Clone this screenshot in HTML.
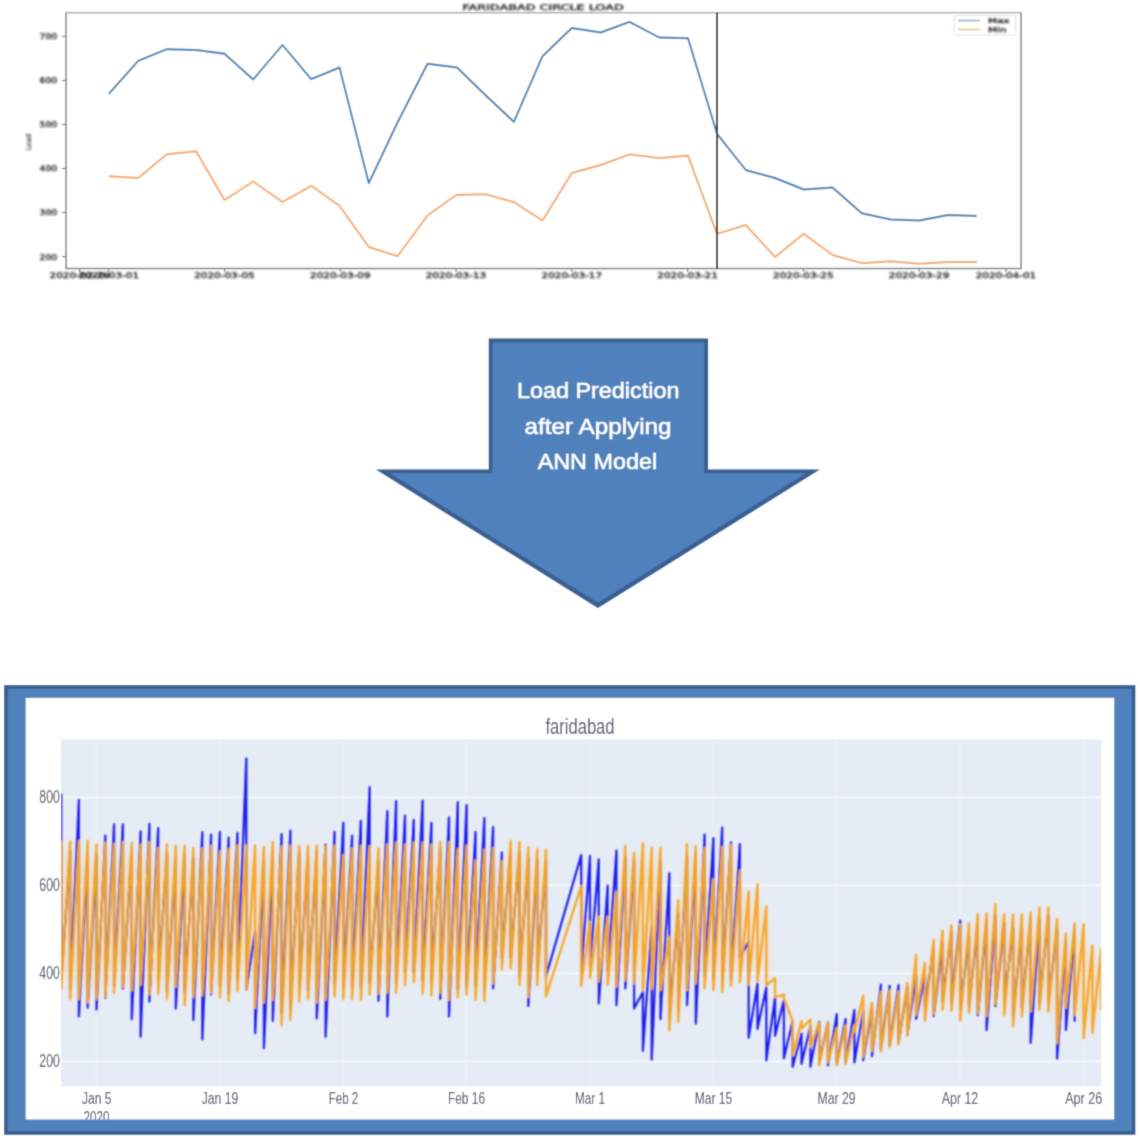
<!DOCTYPE html>
<html><head><meta charset="utf-8"><title>Faridabad circle load</title>
<style>
html,body{margin:0;padding:0;background:#fff;}
body{width:1140px;height:1140px;overflow:hidden;}
svg{display:block}
.mt{font-family:"DejaVu Sans","Liberation Sans",sans-serif;font-size:7.6px;fill:#1a1a1a;stroke:#1a1a1a;stroke-width:0.32px;}
.at{font-family:"Liberation Sans",sans-serif;font-size:22.6px;fill:#fff;stroke:#fff;stroke-width:0.5px;}
.pt{font-family:"Liberation Sans",sans-serif;font-size:16.8px;fill:#444b5e;}
</style></head><body>
<svg width="1140" height="1140" viewBox="0 0 1140 1140">
<defs>
<filter id="b1" x="-2%" y="-5%" width="104%" height="110%"><feGaussianBlur stdDeviation="1"/></filter>
<filter id="b2" x="-2%" y="-5%" width="104%" height="110%"><feConvolveMatrix order="3" kernelMatrix="0.03 0.11 0.03 0.11 0.44 0.11 0.03 0.11 0.03" divisor="1" edgeMode="duplicate" preserveAlpha="false"/></filter>
<filter id="b3" filterUnits="userSpaceOnUse" x="0" y="700" width="1140" height="420"><feConvolveMatrix order="3" kernelMatrix="0.03 0.11 0.03 0.11 0.44 0.11 0.03 0.11 0.03" divisor="1" edgeMode="duplicate" preserveAlpha="false"/></filter>
<filter id="b4" filterUnits="userSpaceOnUse" x="0" y="700" width="1140" height="420"><feGaussianBlur stdDeviation="3 11"/></filter>
</defs>
<rect width="1140" height="1140" fill="#fff"/>
<g filter="url(#b2)">
<rect x="66.1" y="12.8" width="954.9" height="255.6" fill="#fff"/>
<path d="M66.1,12.1 L66.1,268.4 L1021.0,268.4 L1021.0,12.1" fill="none" stroke="#858585" stroke-width="1.5" stroke-linejoin="miter"/>
<line x1="66.1" y1="12.8" x2="1021.0" y2="12.8" stroke="#b2b2b2" stroke-width="1.6"/>
<line x1="62.1" y1="256.6" x2="66.1" y2="256.6" stroke="#777" stroke-width="1"/>
<line x1="62.1" y1="212.5" x2="66.1" y2="212.5" stroke="#777" stroke-width="1"/>
<line x1="62.1" y1="168.5" x2="66.1" y2="168.5" stroke="#777" stroke-width="1"/>
<line x1="62.1" y1="124.4" x2="66.1" y2="124.4" stroke="#777" stroke-width="1"/>
<line x1="62.1" y1="80.4" x2="66.1" y2="80.4" stroke="#777" stroke-width="1"/>
<line x1="62.1" y1="36.3" x2="66.1" y2="36.3" stroke="#777" stroke-width="1"/>
<line x1="79.8" y1="268.4" x2="79.8" y2="271.9" stroke="#777" stroke-width="1"/>
<line x1="108.8" y1="268.4" x2="108.8" y2="271.9" stroke="#777" stroke-width="1"/>
<line x1="224.5" y1="268.4" x2="224.5" y2="271.9" stroke="#777" stroke-width="1"/>
<line x1="340.3" y1="268.4" x2="340.3" y2="271.9" stroke="#777" stroke-width="1"/>
<line x1="456.0" y1="268.4" x2="456.0" y2="271.9" stroke="#777" stroke-width="1"/>
<line x1="571.8" y1="268.4" x2="571.8" y2="271.9" stroke="#777" stroke-width="1"/>
<line x1="687.6" y1="268.4" x2="687.6" y2="271.9" stroke="#777" stroke-width="1"/>
<line x1="803.3" y1="268.4" x2="803.3" y2="271.9" stroke="#777" stroke-width="1"/>
<line x1="919.1" y1="268.4" x2="919.1" y2="271.9" stroke="#777" stroke-width="1"/>
<line x1="1005.9" y1="268.4" x2="1005.9" y2="271.9" stroke="#777" stroke-width="1"/>
<polyline points="108.8,93.8 138.2,60.8 166.8,49.2 196.2,50.0 224.5,53.8 253.2,79.5 282.5,45.0 311.2,79.2 339.5,67.5 368.8,183.2 397.5,122.5 427.5,63.8 457.0,67.5 484.0,93.8 513.8,121.8 542.5,56.2 571.8,28.0 600.8,32.5 629.5,21.9 659.2,37.5 688.0,38.2 717.0,133.8 745.8,170.0 775.0,178.0 803.8,189.5 832.5,187.5 861.8,213.2 890.5,219.5 919.3,220.5 948.0,215.0 977.0,216.0" fill="none" stroke="#4381b6" stroke-width="1.9" stroke-linejoin="round"/>
<polyline points="108.8,176.2 138.2,178.0 166.8,154.2 196.2,151.2 224.5,200.0 253.2,181.5 282.5,202.0 311.2,185.8 339.5,205.8 368.8,247.0 397.5,256.2 427.5,215.5 456.2,195.0 485.0,194.2 513.8,202.0 542.5,220.5 571.8,173.0 600.8,165.0 629.5,154.4 659.2,158.0 688.0,155.8 717.0,233.8 745.8,225.0 775.0,257.0 803.8,233.8 832.5,255.0 861.8,263.2 890.5,261.2 919.3,263.8 948.0,262.0 977.0,262.0" fill="none" stroke="#f6a968" stroke-width="1.9" stroke-linejoin="round"/>
<line x1="717" y1="12.8" x2="717" y2="268.4" stroke="#2a2a2a" stroke-width="2"/>
<rect x="954.3" y="15.6" width="61.4" height="19.4" rx="1.5" fill="#fff" stroke="#e2e2e2" stroke-width="1"/>
<line x1="958" y1="20.5" x2="980" y2="20.5" stroke="#8db4d6" stroke-width="1.6"/>
<line x1="958" y1="29.5" x2="980" y2="29.5" stroke="#f8c392" stroke-width="1.6"/>
</g>
<g filter="url(#b1)">
<text x="57.2" y="259.5" text-anchor="end" textLength="17.6" lengthAdjust="spacingAndGlyphs" class="mt">200</text>
<text x="57.2" y="215.4" text-anchor="end" textLength="17.6" lengthAdjust="spacingAndGlyphs" class="mt">300</text>
<text x="57.2" y="171.4" text-anchor="end" textLength="17.6" lengthAdjust="spacingAndGlyphs" class="mt">400</text>
<text x="57.2" y="127.3" text-anchor="end" textLength="17.6" lengthAdjust="spacingAndGlyphs" class="mt">500</text>
<text x="57.2" y="83.3" text-anchor="end" textLength="17.6" lengthAdjust="spacingAndGlyphs" class="mt">600</text>
<text x="57.2" y="39.2" text-anchor="end" textLength="17.6" lengthAdjust="spacingAndGlyphs" class="mt">700</text>
<text x="79.8" y="278.1" text-anchor="middle" textLength="60.5" lengthAdjust="spacingAndGlyphs" class="mt">2020-02-29</text>
<text x="108.8" y="278.1" text-anchor="middle" textLength="60.5" lengthAdjust="spacingAndGlyphs" class="mt">2020-03-01</text>
<text x="224.5" y="278.1" text-anchor="middle" textLength="60.5" lengthAdjust="spacingAndGlyphs" class="mt">2020-03-05</text>
<text x="340.3" y="278.1" text-anchor="middle" textLength="60.5" lengthAdjust="spacingAndGlyphs" class="mt">2020-03-09</text>
<text x="456.0" y="278.1" text-anchor="middle" textLength="60.5" lengthAdjust="spacingAndGlyphs" class="mt">2020-03-13</text>
<text x="571.8" y="278.1" text-anchor="middle" textLength="60.5" lengthAdjust="spacingAndGlyphs" class="mt">2020-03-17</text>
<text x="687.6" y="278.1" text-anchor="middle" textLength="60.5" lengthAdjust="spacingAndGlyphs" class="mt">2020-03-21</text>
<text x="803.3" y="278.1" text-anchor="middle" textLength="60.5" lengthAdjust="spacingAndGlyphs" class="mt">2020-03-25</text>
<text x="919.1" y="278.1" text-anchor="middle" textLength="60.5" lengthAdjust="spacingAndGlyphs" class="mt">2020-03-29</text>
<text x="1005.9" y="278.1" text-anchor="middle" textLength="60.5" lengthAdjust="spacingAndGlyphs" class="mt">2020-04-01</text>
<text transform="translate(31.3,142) rotate(-90)" text-anchor="middle" textLength="16" lengthAdjust="spacingAndGlyphs" class="mt" style="font-size:7px;fill:#222;stroke-width:0.1px">Load</text>
<text x="543" y="10" text-anchor="middle" textLength="161.5" lengthAdjust="spacingAndGlyphs" class="mt" style="font-size:7.8px">FARIDABAD CIRCLE LOAD</text>
<text x="988" y="23" textLength="21.5" lengthAdjust="spacingAndGlyphs" class="mt" style="font-size:6.6px">Max</text>
<text x="988" y="31.6" textLength="18.5" lengthAdjust="spacingAndGlyphs" class="mt" style="font-size:6.6px">Min</text>
</g>
<g filter="url(#b2)">
<polygon points="488.8,338.5 708,338.5 708,469.6 819.8,469.6 597.9,607.9 376,469.6 488.8,469.6" fill="#3a5f91"/>
<polygon points="492.5,342.2 704.3,342.2 704.3,473.3 805.9,473.3 597.9,602.7 389.9,473.3 492.5,473.3" fill="#4f81bd"/>
<text x="598.2" y="398.2" text-anchor="middle" textLength="162.5" lengthAdjust="spacingAndGlyphs" class="at">Load Prediction</text>
<text x="598.1" y="433.7" text-anchor="middle" textLength="147.0" lengthAdjust="spacingAndGlyphs" class="at">after Applying</text>
<text x="597.4" y="468.8" text-anchor="middle" textLength="119.5" lengthAdjust="spacingAndGlyphs" class="at">ANN Model</text>
</g>
<g filter="url(#b2)">
<rect x="4.2" y="685.2" width="1131.1" height="449.5" fill="#385d8a"/>
<rect x="7.7" y="688.7" width="1124.1" height="442.5" fill="#4f81bd"/>
<rect x="25.7" y="697.9" width="1088.5" height="421.6" fill="#fff"/>
<rect x="61.0" y="739.5" width="1040.2" height="346.8" fill="#e5ecf6"/>
<line x1="96.5" y1="739.5" x2="96.5" y2="1086.3" stroke="#ecf1f9" stroke-width="1.6"/>
<line x1="220.0" y1="739.5" x2="220.0" y2="1086.3" stroke="#ecf1f9" stroke-width="1.6"/>
<line x1="343.5" y1="739.5" x2="343.5" y2="1086.3" stroke="#ecf1f9" stroke-width="1.6"/>
<line x1="466.5" y1="739.5" x2="466.5" y2="1086.3" stroke="#ecf1f9" stroke-width="1.6"/>
<line x1="590.0" y1="739.5" x2="590.0" y2="1086.3" stroke="#ecf1f9" stroke-width="1.6"/>
<line x1="713.4" y1="739.5" x2="713.4" y2="1086.3" stroke="#ecf1f9" stroke-width="1.6"/>
<line x1="836.5" y1="739.5" x2="836.5" y2="1086.3" stroke="#ecf1f9" stroke-width="1.6"/>
<line x1="960.0" y1="739.5" x2="960.0" y2="1086.3" stroke="#ecf1f9" stroke-width="1.6"/>
<line x1="1083.7" y1="739.5" x2="1083.7" y2="1086.3" stroke="#ecf1f9" stroke-width="1.6"/>
<line x1="61.0" y1="797.4" x2="1101.2" y2="797.4" stroke="#f4f7fc" stroke-width="2"/>
<line x1="61.0" y1="885.4" x2="1101.2" y2="885.4" stroke="#f4f7fc" stroke-width="2"/>
<line x1="61.0" y1="973.4" x2="1101.2" y2="973.4" stroke="#f4f7fc" stroke-width="2"/>
<line x1="61.0" y1="1061.4" x2="1101.2" y2="1061.4" stroke="#f4f7fc" stroke-width="2"/>
<svg x="61.0" y="739.5" width="1040.2" height="346.8" viewBox="61.0 739.5 1040.2 346.8" overflow="hidden"><g filter="url(#b3)"><rect x="0" y="700" width="1140" height="400" fill="none"/>
<polygon points="61.2,856.0 70.1,856.4 78.9,856.0 87.7,855.6 96.5,859.5 105.3,857.8 114.1,858.6 122.9,856.9 131.8,857.8 140.6,859.5 149.4,856.9 158.2,863.0 167.0,859.5 175.8,860.7 184.6,860.4 193.4,863.0 202.3,863.4 211.1,860.7 219.9,866.5 228.7,863.9 237.5,860.4 246.3,860.4 255.1,860.4 263.9,862.1 272.8,856.9 281.6,861.3 290.4,860.7 299.2,860.7 308.0,860.7 316.8,860.4 325.6,861.3 334.5,860.4 343.3,870.0 352.1,863.4 360.9,860.7 369.7,861.3 378.5,863.4 387.3,859.5 396.1,857.4 405.0,859.5 413.8,857.4 422.6,857.4 431.4,859.5 440.2,856.9 449.0,856.9 457.8,863.9 466.6,860.4 475.5,875.3 484.3,864.8 493.1,863.0 501.9,876.2 510.7,856.0 519.5,856.9 528.3,862.1 537.2,863.9 546.0,864.8 546.0,981.4 537.2,970.0 528.3,982.2 519.5,970.0 510.7,953.3 501.9,954.2 493.1,968.2 484.3,985.8 475.5,984.9 466.6,979.6 457.8,982.2 449.0,984.9 440.2,977.9 431.4,980.5 422.6,978.7 413.8,967.3 405.0,970.0 396.1,977.9 387.3,977.9 378.5,978.7 369.7,979.6 360.9,984.9 352.1,984.0 343.3,984.0 334.5,981.4 325.6,984.9 316.8,987.5 308.0,984.0 299.2,986.6 290.4,1005.1 281.6,1010.3 272.8,984.9 263.9,987.5 255.1,992.8 246.3,973.5 237.5,976.1 228.7,985.8 219.9,982.2 211.1,977.9 202.3,980.5 193.4,982.2 184.6,990.1 175.8,971.7 167.0,984.0 158.2,978.7 149.4,979.6 140.6,970.0 131.8,975.2 122.9,971.7 114.1,977.9 105.3,982.2 96.5,984.0 87.7,987.5 78.9,984.0 70.1,984.0 61.2,973.5" fill="#fbcf8a" opacity="0.4" filter="url(#b4)"/>
<polygon points="581.2,900.7 590.0,936.7 598.8,931.4 607.7,931.4 616.5,906.9 625.3,860.9 634.1,867.9 642.9,858.3 651.7,862.7 660.5,862.7 669.3,952.1 678.2,915.3 687.0,859.2 695.8,860.9 704.6,862.7 713.4,894.2 722.2,861.8 731.0,860.0 739.9,885.5 748.7,906.5 757.5,899.5 766.3,921.4 775.1,987.7 783.9,996.5 792.7,1036.0 801.5,1024.9 810.4,1033.3 819.2,1037.4 828.0,1037.4 836.8,1043.0 845.6,1040.2 854.4,1028.4 863.2,1010.7 872.0,1017.8 880.9,1006.5 889.7,1005.1 898.5,1006.5 907.3,998.1 916.1,970.0 924.9,978.0 933.7,954.9 942.6,945.7 951.4,940.2 960.2,939.3 969.0,938.4 977.8,929.2 986.6,928.2 995.4,919.0 1004.2,929.2 1013.1,929.2 1021.9,929.2 1030.7,927.3 1039.5,922.7 1048.3,922.7 1057.1,933.8 1065.9,948.5 1074.7,938.4 1083.6,939.3 1092.4,960.5 1101.2,964.2 1101.2,994.8 1092.4,1017.8 1083.6,1023.3 1074.7,1000.3 1065.9,992.9 1057.1,1027.9 1048.3,996.6 1039.5,994.8 1030.7,996.6 1021.9,1001.2 1013.1,1011.4 1004.2,1000.3 995.4,989.3 986.6,1001.2 977.8,998.5 969.0,997.6 960.2,1005.8 951.4,995.7 942.6,994.8 933.7,999.4 924.9,1005.8 916.1,999.8 907.3,1020.8 898.5,1029.3 889.7,1032.1 880.9,1036.3 872.0,1036.3 863.2,1041.9 854.4,1028.4 845.6,1048.9 836.8,1050.3 828.0,1047.5 819.2,1050.3 810.4,1033.3 801.5,1024.9 792.7,1040.5 783.9,996.5 775.1,987.7 766.3,970.3 757.5,966.5 748.7,970.0 739.9,967.3 731.0,970.8 722.2,977.0 713.4,975.2 704.6,973.5 695.8,968.2 687.0,975.2 678.2,1006.8 669.3,1015.6 660.5,975.2 651.7,973.5 642.9,975.2 634.1,968.2 625.3,965.6 616.5,971.7 607.7,970.0 598.8,966.5 590.0,962.9 581.2,970.8" fill="#fbcf8a" opacity="0.4" filter="url(#b4)"/>
<path d="M61.2,793.7 L61.2,980.5 L70.1,851.8 L70.1,989.9 L78.9,799.9 L78.9,1016.4 L87.7,851.6 L87.7,1007.7 L96.5,855.6 L96.5,1009.4 L105.3,835.8 L105.3,998.0 L114.1,824.4 L114.1,986.2 L122.9,824.4 L122.9,988.4 L131.8,849.0 L131.8,1019.1 L140.6,831.5 L140.6,1036.6 L149.4,823.9 L149.4,1001.5 L158.2,828.3 L158.2,980.9 L167.0,852.7 L167.0,991.0 L175.8,859.8 L175.8,1008.5 L184.6,855.2 L184.6,992.3 L193.4,857.9 L193.4,1020.0 L202.3,832.3 L202.3,1039.3 L211.1,834.6 L211.1,994.5 L219.9,832.0 L219.9,986.0 L228.7,837.6 L228.7,993.4 L237.5,832.9 L237.5,979.9 L246.3,758.6 L246.3,989.3 L255.1,931.6 L255.1,1033.1 L263.9,860.2 L263.9,1048.0 L272.8,852.2 L272.8,1020.8 L281.6,834.1 L281.6,1013.3 L290.4,830.6 L290.4,1008.6 L299.2,852.3 L299.2,989.5 L308.0,856.6 L308.0,990.5 L316.8,851.7 L316.8,1018.2 L325.6,844.6 L325.6,1036.6 L334.5,832.0 L334.5,983.3 L343.3,822.7 L343.3,989.1 L352.1,835.8 L352.1,987.1 L360.9,820.9 L360.9,986.7 L369.7,787.1 L369.7,982.8 L378.5,861.8 L378.5,1000.7 L387.3,811.3 L387.3,1016.4 L396.1,801.1 L396.1,983.6 L405.0,815.7 L405.0,972.5 L413.8,820.0 L413.8,972.7 L422.6,800.7 L422.6,980.2 L431.4,823.0 L431.4,982.4 L440.2,848.8 L440.2,998.9 L449.0,817.4 L449.0,1016.4 L457.8,802.2 L457.8,990.1 L466.6,805.1 L466.6,986.8 L475.5,832.0 L475.5,986.1 L484.3,818.3 L484.3,991.2 L493.1,827.1 L493.1,988.4 L501.9,852.5 L501.9,958.1 L510.7,849.5 L510.7,958.1 L519.5,851.1 L519.5,976.1 L528.3,857.9 L528.3,1005.9 L537.2,859.7 L537.2,971.6 L546.0,861.3 L546.0,976.1 L581.2,855.1 L581.2,972.3 L590.0,856.0 L590.0,965.0 L598.8,859.5 L598.8,1003.3 L607.7,885.8 L607.7,970.9 L616.5,850.7 L616.5,1005.0 L625.3,857.4 L625.3,988.4 L634.1,860.3 L634.1,1008.5 L642.9,992.3 L642.9,1050.7 L651.7,927.4 L651.7,1059.4 L660.5,860.7 L660.5,1019.1 L669.3,873.2 L669.3,1016.8 L678.2,913.6 L678.2,1011.2 L687.0,856.0 L687.0,1005.0 L695.8,853.7 L695.8,1023.5 L704.6,834.6 L704.6,975.7 L713.4,838.1 L713.4,979.5 L722.2,827.6 L722.2,983.6 L731.0,842.5 L731.0,979.2 L739.9,844.3 L739.9,957.7 L748.7,941.6 L748.7,1037.5 L757.5,983.6 L757.5,1028.7 L766.3,987.4 L766.3,1060.3 L775.1,997.2 L775.1,1035.7 L783.9,1000.0 L783.9,1058.2 L792.7,1021.1 L792.7,1066.6 L801.5,1033.7 L801.5,1063.8 L810.4,1026.7 L810.4,1066.6 L819.2,1021.8 L819.2,1062.4 L828.0,1022.5 L828.0,1065.2 L836.8,1014.1 L836.8,1063.8 L845.6,1019.0 L845.6,1062.4 L854.4,1009.9 L854.4,1062.4 L863.2,1011.3 L863.2,1060.3 L872.0,1008.5 L872.0,1056.1 L880.9,984.6 L880.9,1048.4 L889.7,986.0 L889.7,1045.6 L898.5,985.3 L898.5,1042.8 L907.3,987.4 L907.3,1034.3 L916.1,976.2 L916.1,1018.9 L924.9,975.9 L924.9,1006.8 L933.7,946.8 L933.7,1016.1 L942.6,943.2 L942.6,1000.4 L951.4,932.5 L951.4,1002.3 L960.2,920.7 L960.2,1008.6 L969.0,936.5 L969.0,1006.1 L977.8,925.2 L977.8,1015.2 L986.6,919.7 L986.6,1030.0 L995.4,915.9 L995.4,1006.0 L1004.2,922.9 L1004.2,1002.2 L1013.1,928.1 L1013.1,1016.2 L1021.9,928.2 L1021.9,1007.7 L1030.7,919.0 L1030.7,1042.8 L1039.5,918.6 L1039.5,1003.4 L1048.3,915.4 L1048.3,1002.3 L1057.1,929.7 L1057.1,1058.5 L1065.9,940.8 L1065.9,1030.0 L1074.7,929.8 L1074.7,1021.7" fill="none" stroke="#1c1cee" stroke-width="2.4" stroke-linejoin="round" stroke-linecap="butt"/>
<path d="M61.2,841.1 L61.2,988.4 L70.1,841.5 L70.1,998.9 L78.9,841.1 L78.9,998.9 L87.7,840.7 L87.7,1002.4 L96.5,844.6 L96.5,998.9 L105.3,842.9 L105.3,997.1 L114.1,843.7 L114.1,992.8 L122.9,842.0 L122.9,986.6 L131.8,842.9 L131.8,990.1 L140.6,844.6 L140.6,984.9 L149.4,842.0 L149.4,994.5 L158.2,848.1 L158.2,993.6 L167.0,844.6 L167.0,998.9 L175.8,845.8 L175.8,986.6 L184.6,845.5 L184.6,1005.0 L193.4,848.1 L193.4,997.1 L202.3,848.5 L202.3,995.4 L211.1,845.8 L211.1,992.8 L219.9,851.6 L219.9,997.1 L228.7,849.0 L228.7,1000.7 L237.5,845.5 L237.5,991.0 L246.3,845.5 L246.3,988.4 L255.1,845.5 L255.1,1007.7 L263.9,847.2 L263.9,1002.4 L272.8,842.0 L272.8,999.8 L281.6,846.4 L281.6,1025.2 L290.4,845.8 L290.4,1020.0 L299.2,845.8 L299.2,1001.5 L308.0,845.8 L308.0,998.9 L316.8,845.5 L316.8,1002.4 L325.6,846.4 L325.6,999.8 L334.5,845.5 L334.5,996.3 L343.3,855.1 L343.3,998.9 L352.1,848.5 L352.1,998.9 L360.9,845.8 L360.9,999.8 L369.7,846.4 L369.7,994.5 L378.5,848.5 L378.5,993.6 L387.3,844.6 L387.3,992.8 L396.1,842.5 L396.1,992.8 L405.0,844.6 L405.0,984.9 L413.8,842.5 L413.8,982.2 L422.6,842.5 L422.6,993.6 L431.4,844.6 L431.4,995.4 L440.2,842.0 L440.2,992.8 L449.0,842.0 L449.0,999.8 L457.8,849.0 L457.8,997.1 L466.6,845.5 L466.6,994.5 L475.5,860.4 L475.5,999.8 L484.3,849.9 L484.3,1000.7 L493.1,848.1 L493.1,983.1 L501.9,861.3 L501.9,969.1 L510.7,841.1 L510.7,968.2 L519.5,842.0 L519.5,984.9 L528.3,847.2 L528.3,997.1 L537.2,849.0 L537.2,984.9 L546.0,849.9 L546.0,996.3 L581.2,885.8 L581.2,985.7 L590.0,921.8 L590.0,977.8 L598.8,916.5 L598.8,981.4 L607.7,916.5 L607.7,984.9 L616.5,892.0 L616.5,986.6 L625.3,846.0 L625.3,980.5 L634.1,853.0 L634.1,983.1 L642.9,843.4 L642.9,990.1 L651.7,847.8 L651.7,988.4 L660.5,847.8 L660.5,990.1 L669.3,937.2 L669.3,1030.5 L678.2,900.4 L678.2,1021.7 L687.0,844.3 L687.0,990.1 L695.8,846.0 L695.8,983.1 L704.6,847.8 L704.6,988.4 L713.4,879.3 L713.4,990.1 L722.2,846.9 L722.2,991.9 L731.0,845.1 L731.0,985.7 L739.9,870.6 L739.9,982.2 L748.7,891.6 L748.7,984.9 L757.5,884.6 L757.5,981.4 L766.3,906.5 L766.3,985.2 L775.1,978.3 L775.1,997.1 L783.9,994.4 L783.9,998.5 L792.7,1021.1 L792.7,1055.4 L801.5,1021.1 L801.5,1028.7 L810.4,1019.7 L810.4,1047.0 L819.2,1022.5 L819.2,1065.2 L828.0,1022.5 L828.0,1062.4 L836.8,1028.1 L836.8,1065.2 L845.6,1025.3 L845.6,1063.8 L854.4,1025.3 L854.4,1031.5 L863.2,995.8 L863.2,1056.8 L872.0,1002.9 L872.0,1051.2 L880.9,991.6 L880.9,1051.2 L889.7,990.2 L889.7,1047.0 L898.5,991.6 L898.5,1044.2 L907.3,983.2 L907.3,1035.7 L916.1,955.1 L916.1,1014.7 L924.9,963.1 L924.9,1020.7 L933.7,940.0 L933.7,1014.3 L942.6,930.8 L942.6,1009.7 L951.4,925.3 L951.4,1010.6 L960.2,924.4 L960.2,1020.7 L969.0,923.5 L969.0,1012.5 L977.8,914.3 L977.8,1013.4 L986.6,913.3 L986.6,1016.1 L995.4,904.1 L995.4,1004.2 L1004.2,914.3 L1004.2,1015.2 L1013.1,914.3 L1013.1,1026.3 L1021.9,914.3 L1021.9,1016.1 L1030.7,912.4 L1030.7,1011.5 L1039.5,907.8 L1039.5,1009.7 L1048.3,907.8 L1048.3,1011.5 L1057.1,918.9 L1057.1,1042.8 L1065.9,933.6 L1065.9,1007.8 L1074.7,923.5 L1074.7,1015.2 L1083.6,924.4 L1083.6,1038.2 L1092.4,945.6 L1092.4,1032.7 L1101.2,949.3 L1101.2,1009.7" fill="none" stroke="#f7a722" stroke-width="2.55" stroke-linejoin="round" stroke-linecap="butt" opacity="0.97"/>
</g></svg>
<text x="59.8" y="803.1" text-anchor="end" textLength="20.5" lengthAdjust="spacingAndGlyphs" class="pt" style="font-size:18.2px">800</text>
<text x="59.8" y="891.1" text-anchor="end" textLength="20.5" lengthAdjust="spacingAndGlyphs" class="pt" style="font-size:18.2px">600</text>
<text x="59.8" y="979.1" text-anchor="end" textLength="20.5" lengthAdjust="spacingAndGlyphs" class="pt" style="font-size:18.2px">400</text>
<text x="59.8" y="1067.1" text-anchor="end" textLength="20.5" lengthAdjust="spacingAndGlyphs" class="pt" style="font-size:18.2px">200</text>
<text x="96.8" y="1104.2" text-anchor="middle" textLength="29.5" lengthAdjust="spacingAndGlyphs" class="pt">Jan 5</text>
<text x="220.0" y="1104.2" text-anchor="middle" textLength="36.5" lengthAdjust="spacingAndGlyphs" class="pt">Jan 19</text>
<text x="343.5" y="1104.2" text-anchor="middle" textLength="29.5" lengthAdjust="spacingAndGlyphs" class="pt">Feb 2</text>
<text x="466.5" y="1104.2" text-anchor="middle" textLength="37.0" lengthAdjust="spacingAndGlyphs" class="pt">Feb 16</text>
<text x="590.0" y="1104.2" text-anchor="middle" textLength="30.0" lengthAdjust="spacingAndGlyphs" class="pt">Mar 1</text>
<text x="713.4" y="1104.2" text-anchor="middle" textLength="37.5" lengthAdjust="spacingAndGlyphs" class="pt">Mar 15</text>
<text x="836.5" y="1104.2" text-anchor="middle" textLength="38.0" lengthAdjust="spacingAndGlyphs" class="pt">Mar 29</text>
<text x="960.0" y="1104.2" text-anchor="middle" textLength="36.5" lengthAdjust="spacingAndGlyphs" class="pt">Apr 12</text>
<text x="1083.7" y="1104.2" text-anchor="middle" textLength="37.0" lengthAdjust="spacingAndGlyphs" class="pt">Apr 26</text>
<svg x="60" y="1105" width="80" height="14.6" viewBox="60 1105 80 14.6" overflow="hidden"><text x="96.6" y="1122.6" text-anchor="middle" textLength="26" lengthAdjust="spacingAndGlyphs" class="pt">2020</text></svg>
<text x="580" y="734" text-anchor="middle" textLength="69" lengthAdjust="spacingAndGlyphs" class="pt" style="font-size:22.6px;fill:#4a5468">faridabad</text>
</g>
</svg>
</body></html>
